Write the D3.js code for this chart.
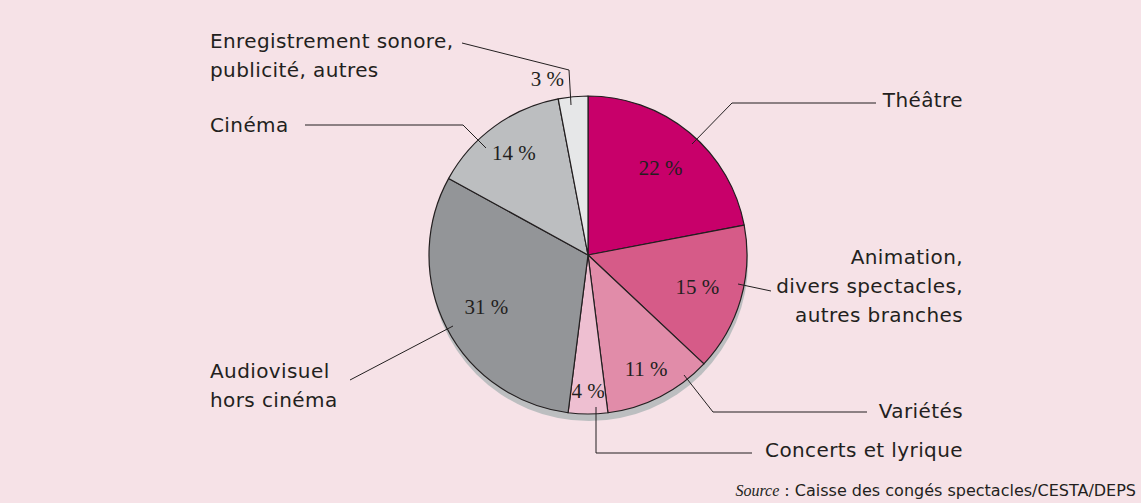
<!DOCTYPE html>
<html>
<head>
<meta charset="utf-8">
<script src="https://cdn.jsdelivr.net/npm/d3@7"></script>
<style>
  body { margin: 0; background: #f6e2e7; }
  svg { display: block; }
  .lab { font-family: "DejaVu Sans", sans-serif; font-size: 20px; letter-spacing: 0.4px; fill: #231f20; }
  .pct { font-family: "Liberation Serif", serif; font-size: 21px; fill: #231f20; }
  .lead { fill: none; stroke: #231f20; stroke-width: 1; }
</style>
</head>
<body>
<div id="chart"></div>
<script>
// data, clockwise from 12 o'clock
const categories = ["Théâtre", "Animation, divers spectacles, autres branches", "Variétés",
  "Concerts et lyrique", "Audiovisuel hors cinéma", "Cinéma", "Enregistrement sonore, publicité, autres"];
const shares = [22, 15, 11, 4, 31, 14, 3];
const pctLabels = ["22 %", "15 %", "11 %", "4 %", "31 %", "14 %", "3 %"];
const sourceText = ": Caisse des congés spectacles/CESTA/DEPS";

const colors = ["#c8006a", "#d65b88", "#e18ca9", "#eebfd1", "#939598", "#bcbec0", "#e6e7e8"];

const W = 1141, H = 503;
const cx = 588, cy = 255, R = 159;

const svg = d3.select("#chart").append("svg").attr("width", W).attr("height", H);
svg.append("rect").attr("width", W).attr("height", H).attr("fill", "#f6e2e7");

const pie = d3.pie().sort(null).value(d => d)(shares);
const arc = d3.arc().innerRadius(0).outerRadius(R);

const g = svg.append("g").attr("transform", `translate(${cx},${cy})`);

// drop shadow
g.append("circle").attr("cx", 1).attr("cy", 7).attr("r", R).attr("fill", "#bcbec0");

g.selectAll("path.slice").data(pie).join("path")
  .attr("class", "slice")
  .attr("d", arc)
  .attr("fill", (d, i) => colors[i])
  .attr("stroke", "#231f20")
  .attr("stroke-width", 1.2)
  .attr("stroke-linejoin", "round");

// percentage labels, placed along each slice's mid angle
const pctRadius = [114, 114, 128, 136, 114, 126, 177];
const pctShift = [0, 0, 0, 0, 0, 0, -24];
g.selectAll("text.pct").data(pie).join("text")
  .attr("class", "pct")
  .attr("text-anchor", "middle")
  .attr("dy", "0.35em")
  .attr("transform", (d, i) => {
    const r = pctRadius[i];
    const c = d3.arc().innerRadius(r).outerRadius(r).centroid(d);
    return `translate(${c[0] + pctShift[i]},${c[1]})`;
  })
  .text((d, i) => pctLabels[i]);

// category labels with leader lines (absolute layout)
const layout = [
  { lines: ["Théâtre"], x: 963, y: 107, anchor: "end",
    lead: [[692, 144], [732, 103], [876, 103]] },
  { lines: ["Animation,", "divers spectacles,", "autres branches"], x: 963, y: 264, anchor: "end",
    lead: [[738, 284], [771, 291]] },
  { lines: ["Variétés"], x: 963, y: 418, anchor: "end",
    lead: [[684, 375], [713, 412], [867, 412]] },
  { lines: ["Concerts et lyrique"], x: 963, y: 457, anchor: "end",
    lead: [[596, 407], [596, 453], [752, 453]] },
  { lines: ["Audiovisuel", "hors cinéma"], x: 210, y: 378, anchor: "start",
    lead: [[350, 380], [453, 326]] },
  { lines: ["Cinéma"], x: 210, y: 132, anchor: "start",
    lead: [[305, 125], [463, 125], [486, 148]] },
  { lines: ["Enregistrement sonore,", "publicité, autres"], x: 210, y: 48, anchor: "start",
    lead: [[462, 43], [569, 70], [571, 105]] }
];

const lineGen = d3.line();
layout.forEach(l => {
  svg.append("path").attr("class", "lead").attr("d", lineGen(l.lead));
  const t = svg.append("text").attr("class", "lab")
    .attr("x", l.x).attr("y", l.y).attr("text-anchor", l.anchor);
  l.lines.forEach((s, k) => {
    t.append("tspan").attr("x", l.x).attr("dy", k === 0 ? 0 : 29).text(s);
  });
});

// source
const src = svg.append("text").attr("x", 1136).attr("y", 496).attr("text-anchor", "end")
  .attr("fill", "#231f20").style("font-size", "16px");
src.append("tspan").style("font-family", "'Liberation Serif', serif").style("font-style", "italic").text("Source");
src.append("tspan").style("font-family", "'DejaVu Sans', sans-serif").text(" " + sourceText);
</script>
</body>
</html>
